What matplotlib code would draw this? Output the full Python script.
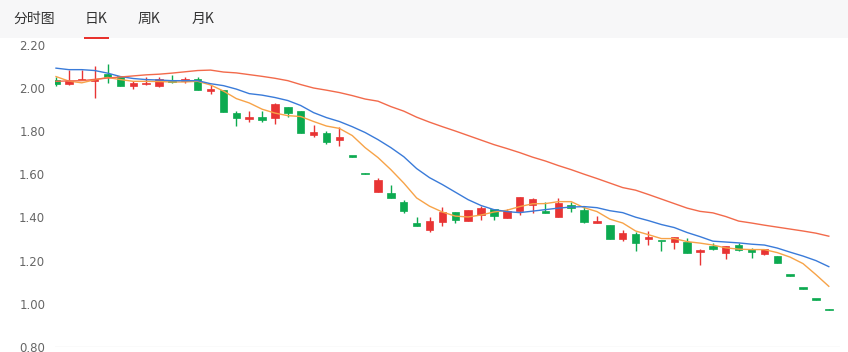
import matplotlib
matplotlib.use("Agg")
from matplotlib import pyplot as plt
from matplotlib.patches import Rectangle
import numpy as np

plt.rcParams['font.family'] = ['Noto Sans CJK SC', 'DejaVu Sans']

# daily candles: open / high / low / close
opens = [2.038, 2.019, 2.037, 2.030, 2.064, 2.053, 2.010, 2.018, 2.007, 2.034,
         2.030, 2.043, 1.987, 1.992, 1.884, 1.857, 1.863, 1.861, 1.913, 1.893,
         1.782, 1.793, 1.759, 1.685, 1.605, 1.519, 1.513, 1.473, 1.373, 1.340,
         1.381, 1.424, 1.382, 1.409, 1.441, 1.397, 1.428, 1.459, 1.431, 1.402,
         1.459, 1.435, 1.376, 1.366, 1.302, 1.325, 1.298, 1.292, 1.284, 1.287,
         1.239, 1.268, 1.236, 1.273, 1.254, 1.230, 1.223, 1.134, 1.074, 1.023,
         0.974]
highs = [2.052, 2.084, 2.084, 2.103, 2.112, 2.053, 2.033, 2.052, 2.050, 2.061,
         2.052, 2.052, 2.011, 1.992, 1.891, 1.891, 1.891, 1.931, 1.913, 1.893,
         1.830, 1.802, 1.820, 1.685, 1.605, 1.581, 1.550, 1.481, 1.402, 1.400,
         1.450, 1.424, 1.433, 1.451, 1.441, 1.437, 1.493, 1.490, 1.471, 1.492,
         1.469, 1.451, 1.406, 1.366, 1.342, 1.333, 1.338, 1.292, 1.310, 1.306,
         1.255, 1.282, 1.268, 1.280, 1.259, 1.254, 1.223, 1.134, 1.074, 1.023,
         0.974]
lows = [2.010, 2.012, 2.037, 1.953, 2.023, 2.010, 1.993, 2.015, 2.002, 2.023,
        2.023, 1.992, 1.969, 1.890, 1.822, 1.842, 1.840, 1.833, 1.867, 1.791,
        1.773, 1.742, 1.732, 1.681, 1.601, 1.519, 1.490, 1.422, 1.359, 1.331,
        1.362, 1.373, 1.382, 1.389, 1.389, 1.397, 1.410, 1.420, 1.419, 1.402,
        1.423, 1.373, 1.373, 1.302, 1.292, 1.245, 1.270, 1.245, 1.255, 1.236,
        1.181, 1.250, 1.206, 1.245, 1.211, 1.224, 1.190, 1.130, 1.070, 1.019,
        0.970]
closes = [2.019, 2.033, 2.042, 2.042, 2.049, 2.010, 2.024, 2.024, 2.042, 2.029,
          2.042, 1.992, 1.992, 1.890, 1.861, 1.863, 1.850, 1.925, 1.882, 1.791,
          1.794, 1.750, 1.774, 1.681, 1.601, 1.575, 1.490, 1.430, 1.359, 1.384,
          1.424, 1.390, 1.433, 1.443, 1.407, 1.431, 1.493, 1.484, 1.419, 1.466,
          1.443, 1.381, 1.382, 1.302, 1.327, 1.282, 1.310, 1.289, 1.310, 1.236,
          1.251, 1.254, 1.268, 1.251, 1.239, 1.254, 1.190, 1.130, 1.070, 1.019,
          0.970]

# moving average lines
ma5 = [2.052, 2.031, 2.023, 2.037, 2.048, 2.038, 2.030, 2.030, 2.029, 2.027,
       2.027, 2.030, 2.013, 1.985, 1.950, 1.930, 1.901, 1.883, 1.871, 1.867,
       1.844, 1.823, 1.812, 1.779, 1.723, 1.677, 1.621, 1.559, 1.490, 1.452,
       1.425, 1.406, 1.402, 1.411, 1.425, 1.433, 1.450, 1.463, 1.464, 1.473,
       1.473, 1.445, 1.427, 1.392, 1.374, 1.337, 1.320, 1.302, 1.302, 1.288,
       1.281, 1.272, 1.259, 1.253, 1.251, 1.251, 1.237, 1.216, 1.186, 1.135,
       1.081]
ma10 = [2.091, 2.084, 2.084, 2.080, 2.068, 2.052, 2.043, 2.038, 2.036, 2.033,
        2.033, 2.033, 2.019, 2.010, 1.994, 1.973, 1.966, 1.955, 1.941, 1.918,
        1.885, 1.862, 1.844, 1.820, 1.793, 1.760, 1.723, 1.681, 1.626, 1.584,
        1.552, 1.517, 1.482, 1.455, 1.436, 1.427, 1.422, 1.429, 1.436, 1.443,
        1.448, 1.450, 1.445, 1.431, 1.422, 1.401, 1.385, 1.367, 1.353, 1.330,
        1.311, 1.290, 1.286, 1.282, 1.276, 1.272, 1.258, 1.239, 1.221, 1.200,
        1.172]
ma20 = [2.030, 2.032, 2.033, 2.039, 2.045, 2.050, 2.055, 2.060, 2.063, 2.068,
        2.074, 2.080, 2.082, 2.073, 2.069, 2.061, 2.053, 2.044, 2.033, 2.015,
        1.999, 1.989, 1.978, 1.964, 1.948, 1.938, 1.913, 1.892, 1.864, 1.841,
        1.820, 1.800, 1.779, 1.758, 1.737, 1.719, 1.700, 1.679, 1.661, 1.640,
        1.621, 1.600, 1.580, 1.559, 1.538, 1.526, 1.506, 1.485, 1.464, 1.443,
        1.428, 1.421, 1.404, 1.383, 1.374, 1.364, 1.355, 1.346, 1.337, 1.327,
        1.313]

tabs = ['分时图', '日K', '周K', '月K']
yticks = [0.80, 1.00, 1.20, 1.40, 1.60, 1.80, 2.00, 2.20]

up_color = '#e83434'
down_color = '#0caa50'

W, H = 848, 352
fig = plt.figure(figsize=(W / 100, H / 100), dpi=100)
fig.patch.set_facecolor('white')

# tab bar
fig.patches.append(Rectangle((0, 1 - 38 / H), 1, 38 / H, transform=fig.transFigure,
                             facecolor='#f7f7f8', edgecolor='none', zorder=0))
tab_x = [13, 85, 138, 192]
for t, tx in zip(tabs, tab_x):
    fig.text(tx / W, 1 - 19 / H, t, fontsize=10, color='#333333',
             ha='left', va='center')
fig.patches.append(Rectangle((84 / W, 1 - 39 / H), 25 / W, 2.5 / H,
                             transform=fig.transFigure, facecolor='#e8322d',
                             edgecolor='none', zorder=3))

left, right, top, bottom = 55, 840, 38, 347
ax = fig.add_axes([left / W, 1 - bottom / H, (right - left) / W, (bottom - top) / H])
ax.set_zorder(1)
ax.patch.set_alpha(0)

step = 12.88
x0 = -(56 - left) / step
ax.set_xlim(x0, x0 + (right - left) / step)
ax.set_ylim(0.80, 0.80 + (bottom - top) / 216.0)

x = np.arange(len(opens))
o = np.array(opens)
c = np.array(closes)
colors = [up_color if cc >= oo else down_color for oo, cc in zip(o, c)]

ax.vlines(x, lows, highs, colors=colors, linewidth=1.0, zorder=2)
body_bottom = np.minimum(o, c)
body_h = np.maximum(np.abs(c - o), 0.006)
ax.bar(x, body_h, bottom=body_bottom, width=0.58, color=colors,
       edgecolor=colors, linewidth=0.5, zorder=3)

ax.plot(x, ma5, color='#f7a348', linewidth=1.0, zorder=4)
ax.plot(x, ma10, color='#3a7bd9', linewidth=1.0, zorder=4)
ax.plot(x, ma20, color='#f26a4b', linewidth=1.0, zorder=4)

ax.axhline(0.80, color='#e6e6e6', linewidth=1.0, zorder=1)

for s in ax.spines.values():
    s.set_visible(False)
ax.set_xticks([])
ax.set_yticks(yticks)
ax.set_yticklabels(['%.2f' % v for v in yticks])
ax.tick_params(axis='y', length=0, pad=7, labelsize=8.5, labelcolor='#666666')
for lab in ax.get_yticklabels():
    lab.set_family(['DejaVu Sans'])
    lab.set_clip_on(False)

fig.savefig('out.png', dpi=100)
